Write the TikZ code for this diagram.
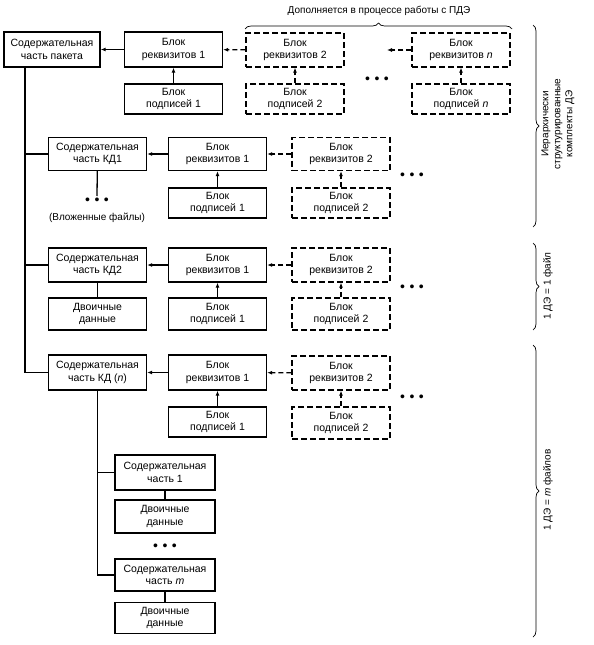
\documentclass[tikz,border=0pt]{standalone}
\usepackage{fontspec}
\setmainfont{Liberation Sans}
\usetikzlibrary{arrows.meta,decorations.pathreplacing}
\begin{document}
\begin{tikzpicture}[x=1pt,y=-1pt,
 box/.style={draw,line width=1.3pt,align=center,minimum width=98pt,minimum height=33pt,inner sep=0pt,font=\fontsize{10.5}{12.5}\selectfont},
 lowbox/.style={box,minimum height=30pt},
 dbox/.style={box,dash pattern=on 6pt off 3pt},
 dlowbox/.style={lowbox,dash pattern=on 6pt off 3pt},
 conn/.style={line width=1.3pt},
 arr/.style={conn,-{Latex[length=5pt,width=4pt]}},
 darr/.style={arr,dash pattern=on 5pt off 3pt},
 brc/.style={decorate,decoration={brace,amplitude=6pt},line width=0.7pt},
 lbl/.style={font=\fontsize{10}{12}\selectfont,align=center,inner sep=0pt},
 dotsn/.style={font=\fontsize{14}{14}\selectfont,inner sep=0pt}
]
\useasboundingbox (0,0) rectangle (594,645);
\newcommand{\threedots}{•\hspace{4.5pt}•\hspace{4.5pt}•}

% Row 1
\node[box,minimum width=96pt,minimum height=35pt] (pak) at (52,49.5) {Содержательная\\часть пакета};
\node[box,minimum height=35pt] (r1a) at (173.5,49.5) {Блок\\реквизитов 1};
\node[lowbox] (p1a) at (173.5,99) {Блок\\подписей 1};
\node[dbox,minimum height=34pt] (r2a) at (295,50) {Блок\\реквизитов 2};
\node[dlowbox] (p2a) at (295,99) {Блок\\подписей 2};
\node[dotsn] (dta) at (377,80) {\threedots};
\node[dbox,minimum height=34pt] (rna) at (461,50) {Блок\\реквизитов \textit{n}};
\node[dlowbox] (pna) at (461,99) {Блок\\подписей \textit{n}};
\coordinate (freea) at (387,50);

\draw[arr] (r1a) -- (pak);
\draw[darr] (r2a) -- (r1a);
\draw[darr] (rna) -- (freea);
\draw[arr] (p1a) -- (r1a);
\draw[darr] (p2a) -- (r2a);
\draw[darr] (pna) -- (rna);

% Row 2
\node[box] (kd1) at (97.5,154) {Содержательная\\часть КД1};
\node[box] (r1b) at (217.5,154) {Блок\\реквизитов 1};
\node[lowbox] (p1b) at (217.5,203) {Блок\\подписей 1};
\node[dbox] (r2b) at (341,154) {Блок\\реквизитов 2};
\node[dlowbox] (p2b) at (341,203) {Блок\\подписей 2};
\node[dotsn] (dtb) at (412,176) {\threedots};
\node[dotsn] (dtk) at (97,201) {\threedots};
\node[lbl] (vlo) at (97,218) {(Вложенные файлы)};
\coordinate (dtktop) at (97,196);
\draw[arr] (r1b) -- (kd1);
\draw[darr] (r2b) -- (r1b);
\draw[arr] (p1b) -- (r1b);
\draw[darr] (p2b) -- (r2b);
\draw[conn] (kd1) -- (dtktop);

% Row 3
\node[box,minimum height=34pt] (kd2) at (97.5,265) {Содержательная\\часть КД2};
\node[lowbox,minimum height=32pt] (dv2) at (97.5,314) {Двоичные\\данные};
\node[box,minimum height=34pt] (r1c) at (217.5,265) {Блок\\реквизитов 1};
\node[lowbox,minimum height=32pt] (p1c) at (217.5,314) {Блок\\подписей 1};
\node[dbox,minimum height=34pt] (r2c) at (341,265) {Блок\\реквизитов 2};
\node[dlowbox,minimum height=32pt] (p2c) at (341,314) {Блок\\подписей 2};
\node[dotsn] (dtc) at (412,288) {\threedots};
\draw[arr] (r1c) -- (kd2);
\draw[darr] (r2c) -- (r1c);
\draw[arr] (p1c) -- (r1c);
\draw[darr] (p2c) -- (r2c);
\draw[conn] (kd2) -- (dv2);

% Row 4
\node[box,minimum height=35pt] (kdn) at (97.5,372.5) {Содержательная\\часть КД (\textit{n})};
\node[box,minimum height=35pt] (r1d) at (217.5,372.5) {Блок\\реквизитов 1};
\node[lowbox] (p1d) at (217.5,422) {Блок\\подписей 1};
\node[dbox,minimum height=34pt] (r2d) at (341,373) {Блок\\реквизитов 2};
\node[dlowbox,minimum height=32pt] (p2d) at (341,423) {Блок\\подписей 2};
\node[dotsn] (dtd) at (412,398) {\threedots};
\draw[arr] (r1d) -- (kdn);
\draw[darr] (r2d) -- (r1d);
\draw[arr] (p1d) -- (r1d);
\draw[darr] (p2d) -- (r2d);

% Sub files
\node[box,minimum width=100pt,minimum height=35pt] (s1) at (165,472.5) {Содержательная\\часть 1};
\node[box,minimum width=100pt,minimum height=33pt] (d1) at (165,516.5) {Двоичные\\данные};
\node[dotsn] (dte) at (165,547) {\threedots};
\node[box,minimum width=100pt,minimum height=32pt] (sm) at (165,575) {Содержательная\\часть \textit{m}};
\node[box,minimum width=100pt,minimum height=31pt] (dm) at (165,618) {Двоичные\\данные};
\draw[conn] (s1) -- (d1);
\draw[conn] (sm) -- (dm);
\draw[conn] (kdn.south) |- (sm.west);
\draw[conn] (kdn.south |- s1.west) -- (s1.west);

% Trunk
\coordinate (trunk) at (25,0);
\draw[conn] (pak.south -| trunk) |- (kdn.west);
\draw[conn] (trunk |- kd1.west) -- (kd1.west);
\draw[conn] (trunk |- kd2.west) -- (kd2.west);

% Braces
\coordinate (ta) at (245,29);
\coordinate (tb) at (512,29);
\draw[brc] (ta) -- (tb);
\node[lbl] (tl) at (379,11) {Дополняется в процессе работы с ПДЭ};

\coordinate (b1a) at (533,25);
\coordinate (b1b) at (533,227);
\draw[brc] (b1a) -- (b1b);
\node[lbl,rotate=90] (l1) at (558,124) {Иерархически\\структурированные\\комплекты ДЭ};

\coordinate (b2a) at (533,243);
\coordinate (b2b) at (533,330);
\draw[brc] (b2a) -- (b2b);
\node[lbl,rotate=90] (l2) at (548,286) {1 ДЭ = 1 файл};

\coordinate (b3a) at (533,345);
\coordinate (b3b) at (533,637);
\draw[brc] (b3a) -- (b3b);
\node[lbl,rotate=90] (l3) at (548,490) {1 ДЭ = \textit{m} файлов};
\end{tikzpicture}
\end{document}
